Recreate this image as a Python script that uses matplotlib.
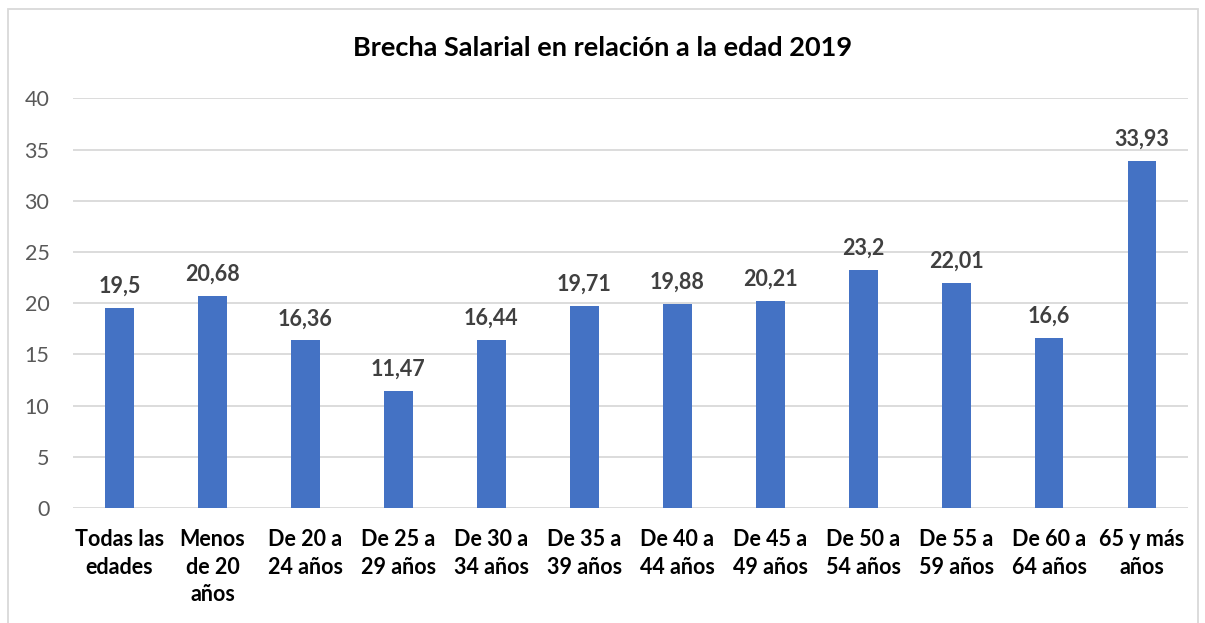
# Brecha salarial por edad 2019 - bar chart
import matplotlib.pyplot as plt
from matplotlib.patches import Rectangle

categorias = ["Todas las\nedades", "Menos\nde 20\naños", "De 20 a\n24 años", "De 25 a\n29 años",
              "De 30 a\n34 años", "De 35 a\n39 años", "De 40 a\n44 años", "De 45 a\n49 años",
              "De 50 a\n54 años", "De 55 a\n59 años", "De 60 a\n64 años", "65 y más\naños"]
brecha = [19.5, 20.68, 16.36, 11.47, 16.44, 19.71, 19.88, 20.21, 23.2, 22.01, 16.6, 33.93]
etiquetas = ["19,5", "20,68", "16,36", "11,47", "16,44", "19,71", "19,88", "20,21",
             "23,2", "22,01", "16,6", "33,93"]
y_ticks = [0, 5, 10, 15, 20, 25, 30, 35, 40]

plt.rcParams["font.family"] = ["Lato", "DejaVu Sans"]

fig = plt.figure(figsize=(12.05, 6.23), dpi=100)
ax = fig.add_axes([0.0606, 0.1846, 0.9257, 0.6574])

x = range(len(categorias))
ax.bar(x, brecha, width=0.31, color="#4472C4", zorder=3)

for i, v in enumerate(brecha):
    ax.text(i, v + 1.1, etiquetas[i], ha="center", va="bottom", fontsize=15.5,
            fontweight="bold", color="#404040")

ax.set_xlim(-0.5, len(categorias) - 0.5)
ax.set_ylim(0, 40)
ax.set_yticks(y_ticks)
ax.set_xticks(list(x))
ax.set_xticklabels(categorias, fontsize=15.5, fontweight="bold", color="black", linespacing=1.4)
ax.tick_params(axis="x", length=0, pad=15)
ax.tick_params(axis="y", length=0, pad=17, labelsize=15.5, labelcolor="#595959")
ax.grid(axis="y", color="#D9D9D9", linewidth=1.3, zorder=0)
for s in ax.spines.values():
    s.set_visible(False)

fig.text(0.5, 0.923, "Brecha Salarial en relación a la edad 2019", ha="center", va="center",
         fontsize=19.5, fontweight="bold", color="black")

# light border around the chart area
fig.patches.append(Rectangle((8 / 1205, -0.01), 1190 / 1205, 1 - 9 / 623 + 0.01,
                             transform=fig.transFigure, fill=False,
                             edgecolor="#D9D9D9", linewidth=1.3))

fig.savefig("out.png", dpi=100)
